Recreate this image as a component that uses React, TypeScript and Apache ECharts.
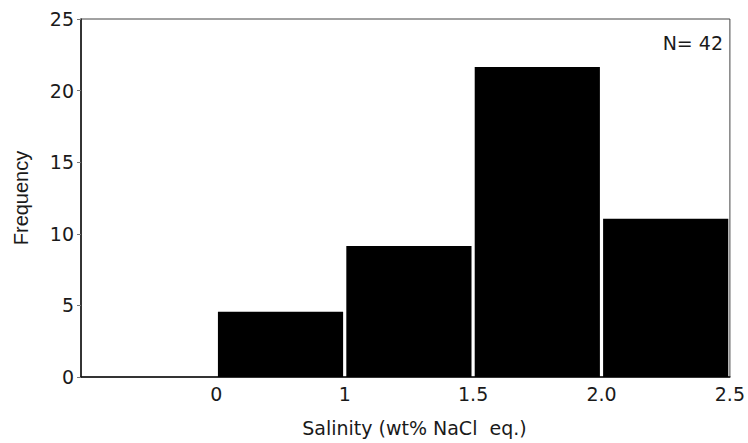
import React, { useEffect, useRef } from "react";
import * as echarts from "echarts";

// Bin edges (axis positions) and their printed labels
const binEdges = [0, 1, 2, 3, 4];
const edgeLabels = ["0", "1", "1.5", "2.0", "2.5"];
// Frequencies for each bin [edge i, edge i+1]
const frequencies = [4.55, 9.15, 21.65, 11.05];
const yTicks = [0, 5, 10, 15, 20, 25];
const sampleNote = "N= 42";
const xTitle = "Salinity (wt% NaCl  eq.)";
const yTitle = "Frequency";

export default function App() {
  const ref = useRef<HTMLDivElement>(null);
  useEffect(() => {
    if (!ref.current) return;
    const chart = echarts.init(ref.current, null, { renderer: "svg" });
    const data = frequencies.map((f, i) => [binEdges[i], binEdges[i + 1], f]);
    const hFont = "'DejaVu Sans', sans-serif";
    chart.setOption({
      animation: false,
      backgroundColor: "#ffffff",
      grid: {
        left: 81,
        right: 15,
        top: 19,
        bottom: 66,
        show: true,
        borderColor: "#444",
        borderWidth: 1,
        backgroundColor: "transparent",
      },
      xAxis: {
        type: "value",
        min: -1.054,
        max: 4,
        name: xTitle,
        nameLocation: "middle",
        nameGap: 41,
        nameTextStyle: {
          fontFamily: hFont,
          fontSize: 19,
          color: "#1a1a1a",
          padding: [0, 0, 0, 18],
        },
        axisLine: { show: true, onZero: false, lineStyle: { color: "#111", width: 1.5 } },
        axisTick: { show: false },
        splitLine: { show: false },
        axisLabel: {
          customValues: binEdges,
          formatter: (v: number) => {
            const idx = binEdges.indexOf(Math.round(v));
            return idx >= 0 ? edgeLabels[idx] : "";
          },
          fontFamily: hFont,
          fontSize: 19,
          color: "#1a1a1a",
          margin: 7,
        },
      },
      yAxis: {
        type: "value",
        min: 0,
        max: 25,
        interval: 5,
        name: yTitle,
        nameLocation: "middle",
        nameGap: 50,
        nameTextStyle: {
          fontFamily: "'Liberation Sans', Arial, sans-serif",
          fontSize: 20,
          color: "#1a1a1a",
        },
        axisLine: { show: true, onZero: false, lineStyle: { color: "#111", width: 1.5 } },
        axisTick: { show: true, length: 4, lineStyle: { color: "#777" } },
        splitLine: { show: false },
        axisLabel: {
          formatter: (v: number) => (yTicks.includes(v) ? String(v) : ""),
          fontFamily: hFont,
          fontSize: 19,
          color: "#1a1a1a",
          margin: 7,
        },
      },
      series: [
        {
          type: "custom",
          data,
          encode: { x: [0, 1], y: 2 },
          renderItem: (params: any, api: any) => {
            const lo = api.coord([api.value(0), 0]);
            const hi = api.coord([api.value(1), api.value(2)]);
            const inset = 1.6;
            return {
              type: "rect",
              shape: {
                x: lo[0] + inset,
                y: hi[1],
                width: hi[0] - lo[0] - inset * 2,
                height: lo[1] - hi[1],
              },
              style: { fill: "#000" },
            };
          },
        },
      ],
      graphic: [
        {
          type: "text",
          right: 25,
          top: 33,
          style: {
            text: sampleNote,
            font: "19px 'DejaVu Sans', sans-serif",
            fill: "#1a1a1a",
          },
        },
      ],
    });
    return () => chart.dispose();
  }, []);
  return (
    <div
      ref={ref}
      style={{ position: "absolute", left: 0, top: 0, width: 748, height: 443 }}
    />
  );
}
